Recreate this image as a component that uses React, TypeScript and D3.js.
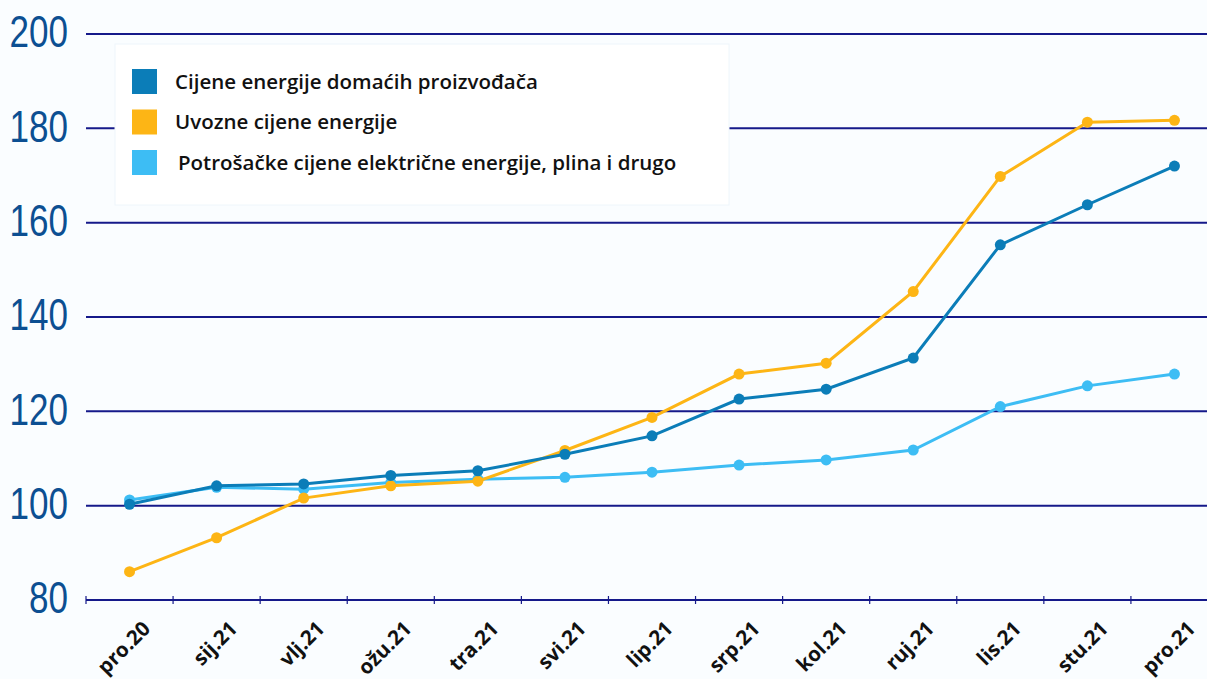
import React from 'react';
import * as d3 from 'd3';

const width = 1207;
const height = 679;

const months = ['pro.20', 'sij.21', 'vlj.21', 'ožu.21', 'tra.21', 'svi.21', 'lip.21', 'srp.21', 'kol.21', 'ruj.21', 'lis.21', 'stu.21', 'pro.21'];
const domestic = [100.3, 104.2, 104.6, 106.4, 107.4, 110.9, 114.8, 122.6, 124.7, 131.3, 155.3, 163.8, 172.0];
const imported = [86.0, 93.2, 101.6, 104.2, 105.2, 111.7, 118.7, 127.9, 130.2, 145.4, 169.8, 181.3, 181.7];
const consumer = [101.2, 103.9, 103.5, 104.9, 105.6, 106.0, 107.1, 108.6, 109.7, 111.8, 121.0, 125.4, 127.9];
const yTicks = [80, 100, 120, 140, 160, 180, 200];

const legendNames = [
  'Cijene energije domaćih proizvođača',
  'Uvozne cijene energije',
  'Potrošačke cijene električne energije, plina i drugo',
];

const darkBlue = '#0b7db8';
const orange = '#fdb515';
const lightBlue = '#3dbdf4';
const navy = '#15198a';

const x = d3.scaleBand().domain(months).range([86, 1218]);
const y = d3.scaleLinear().domain([80, 200]).range([600, 34]);

const line = d3.line<number>()
  .x((d, i) => x(months[i])! + x.bandwidth() / 2)
  .y(d => y(d));

// drawn bottom to top
const series = [
  {values: consumer, color: lightBlue},
  {values: imported, color: orange},
  {values: domestic, color: darkBlue},
];
const legendColors = [darkBlue, orange, lightBlue];

export default function App() {
  return (
    <svg width={width} height={height} style={{position: 'absolute', left: 0, top: 0, background: '#fafdff'}}>
      {/* grid */}
      {yTicks.map(t => (
        <g key={t}>
          <line x1={86} x2={width} y1={y(t)} y2={y(t)} stroke={navy} strokeWidth={2} />
          <text x={68} y={y(t)} dy="0.3em" textAnchor="end" textLength={String(t).length * 19.5} lengthAdjust="spacingAndGlyphs"
            style={{fontFamily: '"Liberation Sans", sans-serif', fontSize: 44, fill: '#0c4f92'}}>
            {t}
          </text>
        </g>
      ))}
      {/* x ticks */}
      {months.map(m => (
        <line key={m} x1={x(m)} x2={x(m)} y1={y(80) - 4} y2={y(80) + 4} stroke={navy} strokeWidth={1.2} />
      ))}
      {months.map(m => {
        const cx = x(m)! + x.bandwidth() / 2 + 22;
        return (
          <text key={m} transform={`translate(${cx}, 630) rotate(-45)`} textAnchor="end"
            style={{fontFamily: '"Open Sans", sans-serif', fontWeight: 700, fontSize: 20.5, fill: '#111'}}>
            {m}
          </text>
        );
      })}
      {/* legend */}
      <rect x={115} y={44} width={614} height={161} fill="#ffffff" stroke="#eef6fb" />
      {legendNames.map((n, i) => (
        <g key={n} transform={`translate(132, ${69 + i * 40.5})`}>
          <rect width={25} height={25} fill={legendColors[i]} />
          <text x={i === 2 ? 46 : 43} y={12.5} dy="0.35em"
            style={{fontFamily: '"Open Sans", sans-serif', fontWeight: 600, fontSize: 20.5, fill: '#111'}}>
            {n}
          </text>
        </g>
      ))}
      {/* lines */}
      {series.map((s, si) => (
        <g key={si}>
          <path d={line(s.values)!} fill="none" stroke={s.color} strokeWidth={3} />
          {s.values.map((v, i) => (
            <circle key={i} cx={x(months[i])! + x.bandwidth() / 2} cy={y(v)} r={5.5} fill={s.color} />
          ))}
        </g>
      ))}
    </svg>
  );
}
